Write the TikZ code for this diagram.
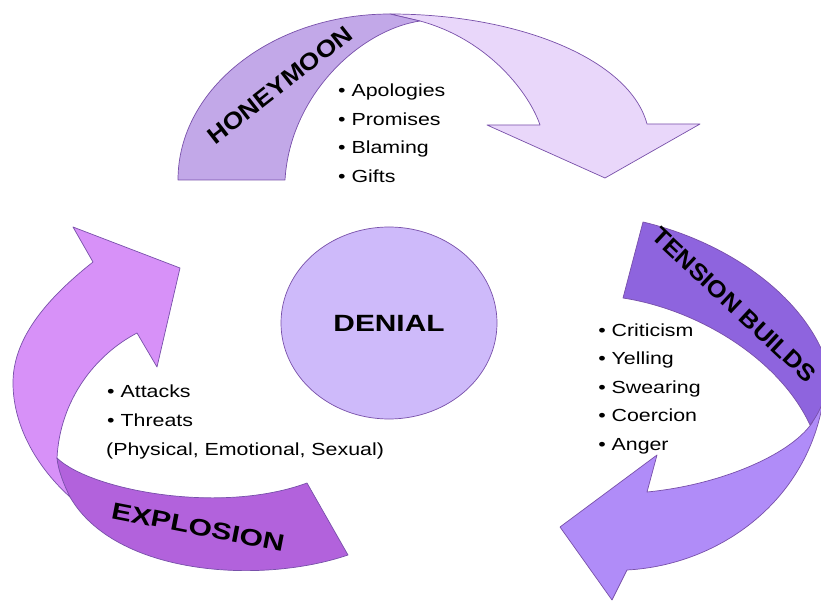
\documentclass[tikz,border=0pt]{standalone}
\usepackage{fontspec}
\setmainfont{Liberation Sans}
\usetikzlibrary{shapes.geometric}

\definecolor{edgepurple}{RGB}{120,80,170}
\definecolor{hmdark}{RGB}{194,168,232}
\definecolor{hmlight}{RGB}{233,215,250}
\definecolor{tndark}{RGB}{142,100,222}
\definecolor{tnlight}{RGB}{176,140,248}
\definecolor{exdark}{RGB}{178,98,220}
\definecolor{exlight}{RGB}{215,145,248}
\definecolor{denialfill}{RGB}{206,186,250}

\begin{document}
\begin{tikzpicture}[x=1pt,y=-1pt,
    band/.style={draw=edgepurple, line width=0.7pt, line join=round},
    item/.style={anchor=base west, inner sep=0pt, font=\fontsize{17.5}{21}\selectfont, xscale=1.22},
    title/.style={font=\bfseries\fontsize{23.5}{26}\selectfont, inner sep=0pt}]
    \fill[white] (0,0) rectangle (821,601);
    \useasboundingbox (0,0) rectangle (821,601);
    \clip (0,0) rectangle (821,601);

    % honeymoon arrow
    \draw[band, fill=hmlight] (390,14) .. controls (520,14) and (630,60) .. (647,124)
        -- (700,124) -- (605,178) -- (487,125) -- (540,125)
        .. controls (530,95) and (490,40) .. (420,21) -- cycle;
    \draw[band, fill=hmdark] (178,180) .. controls (178,88) and (273,14) .. (390,14)
        -- (420,21) .. controls (360,30) and (290,95) .. (285,180) -- cycle;

    % tension arrow
    \draw[band, fill=tnlight] (824,395) .. controls (810,500) and (720,565) .. (627,570)
        -- (612,600) -- (560,527) -- (657,455) -- (647,492)
        .. controls (720,485) and (790,455) .. (812,423) -- cycle;
    \draw[band, fill=tndark] (643,222) .. controls (720,240) and (800,290) .. (826,360)
        .. controls (832,385) and (822,410) .. (810,425)
        .. controls (780,360) and (700,310) .. (623,298) -- cycle;

    % explosion arrow
    \draw[band, fill=exlight] (137,333) -- (157,367) -- (180,268) -- (73,227) -- (93,262)
        .. controls (45,300) and (12,340) .. (13,385)
        .. controls (14,430) and (40,470) .. (70,497) -- (57,458)
        .. controls (60,400) and (95,355) .. (137,333) -- cycle;
    \draw[band, fill=exdark] (57,458) .. controls (90,490) and (220,515) .. (307,483)
        -- (348,555) .. controls (260,585) and (115,575) .. (70,497)
        .. controls (64,485) and (58,470) .. (57,458) -- cycle;

    % centre
    \node[ellipse, band, fill=denialfill, minimum width=216pt, minimum height=192pt,
        font=\bfseries\fontsize{23.5}{26}\selectfont] (denial) at (389,323)
        {\scalebox{1.27}[1]{DENIAL}};

    % stage labels
    \node[rotate=38, title, xscale=1.12] (honeymoon) at (280,85) {HONEYMOON};
    \node[rotate=-43, title, xscale=1.08] (tension) at (734,305) {TENSION BUILDS};
    \node[rotate=-11, title, xscale=1.28] (explosion) at (198,527) {EXPLOSION};

    % lists
    \foreach \txt [count=\i from 0] in {Apologies, Promises, Blaming, Gifts}
        \node[item] (hm\i) at (338,97+28.5*\i) {\textbullet\ \txt};
    \foreach \txt [count=\i from 0] in {Criticism, Yelling, Swearing, Coercion, Anger}
        \node[item] (tn\i) at (598,336+28.6*\i) {\textbullet\ \txt};
    \foreach \txt [count=\i from 0] in {Attacks, Threats}
        \node[item] (ex\i) at (107,397+29*\i) {\textbullet\ \txt};
    \node[item] (ex2) at (106,455) {(Physical, Emotional, Sexual)};
\end{tikzpicture}
\end{document}
